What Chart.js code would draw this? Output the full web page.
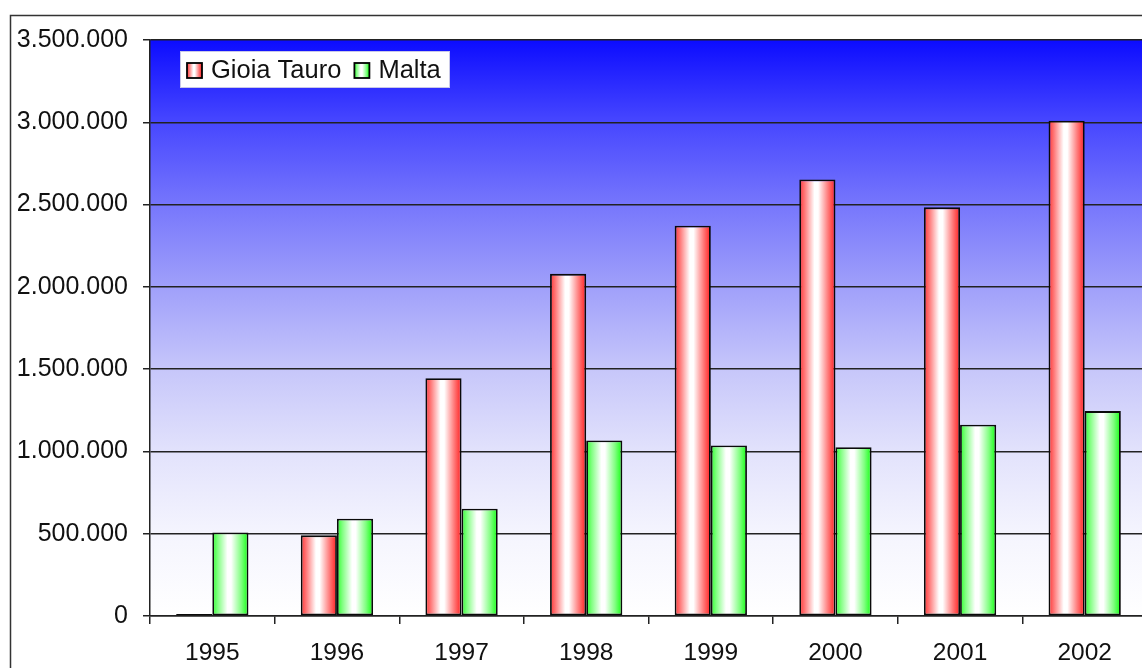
<!DOCTYPE html>
<html>
<head>
<meta charset="utf-8">
<script src="https://cdn.jsdelivr.net/npm/chart.js@4/dist/chart.umd.min.js"></script>
<style>
  html, body { margin: 0; padding: 0; background: #fff; overflow: hidden; }
  #wrap { width: 1142px; height: 668px; overflow: hidden; position: relative; }
  canvas { display: block; }
</style>
</head>
<body>
<div id="wrap"><canvas id="c" width="1160" height="668"></canvas></div>
<script>
// Container traffic (TEU), 1995–2002
const years = ['1995', '1996', '1997', '1998', '1999', '2000', '2001', '2002'];
const gioiaTauro = [12000, 490000, 1445000, 2079000, 2372000, 2652000, 2483000, 3010000];
const malta = [508000, 591000, 652000, 1067000, 1036000, 1026000, 1162000, 1245000];
const seriesNames = ['Gioia Tauro', 'Malta'];
const yMax = 3500000;
const yStep = 500000;

const FONT = '"Liberation Sans", Arial, sans-serif';
const CAT_PCT = 0.58;

function fmt(v) {
  return String(v).replace(/\B(?=(\d{3})+(?!\d))/g, '.');
}

// horizontal cylinder-like shading across a bar
function barGradient(ctx, x0, x1, p) {
  const g = ctx.createLinearGradient(x0, 0, x1, 0);
  g.addColorStop(0, p.edge);
  g.addColorStop(0.15, p.soft);
  g.addColorStop(0.42, '#ffffff');
  g.addColorStop(0.52, '#ffffff');
  g.addColorStop(0.8, p.soft);
  g.addColorStop(0.95, p.edge);
  g.addColorStop(1, p.deep);
  return g;
}
const palettes = [
  { edge: '#ff3434', soft: '#ff7878', deep: '#e80000', flat: '#ff5050' },
  { edge: '#2cff2c', soft: '#80ff80', deep: '#00e000', flat: '#40ff40' }
];

// per-bar fill, positioned from the category scale
function barFill(context) {
  const chart = context.chart;
  const p = palettes[context.datasetIndex];
  const xs = chart.scales && chart.scales.x;
  if (!chart.chartArea || !xs) return p.flat;
  const n = chart.data.labels.length;
  const cat = (xs.right - xs.left) / n;
  const bw = cat * CAT_PCT / 2;
  const c = xs.getPixelForValue(context.dataIndex);
  const x0 = context.datasetIndex === 0 ? c - bw : c;
  return barGradient(chart.ctx, x0, x0 + bw, p);
}

const framePlugin = {
  id: 'frame',
  beforeDraw(chart) {
    const { ctx, chartArea: a } = chart;
    ctx.save();
    ctx.fillStyle = '#fff';
    ctx.fillRect(0, 0, chart.width, chart.height);
    ctx.strokeStyle = '#333';
    ctx.lineWidth = 1.5;
    ctx.strokeRect(10.5, 15.5, chart.width + 20, chart.height + 20);
    // plot background: blue fading to white
    const g = ctx.createLinearGradient(0, a.top, 0, a.bottom);
    g.addColorStop(0, 'rgb(12,12,255)');
    g.addColorStop(0.14, 'rgb(70,70,255)');
    g.addColorStop(0.285, 'rgb(118,118,252)');
    g.addColorStop(0.43, 'rgb(160,160,250)');
    g.addColorStop(0.57, 'rgb(198,198,250)');
    g.addColorStop(0.714, 'rgb(226,226,252)');
    g.addColorStop(0.86, 'rgb(245,245,254)');
    g.addColorStop(1, 'rgb(255,255,255)');
    ctx.fillStyle = g;
    ctx.fillRect(a.left, a.top, a.right - a.left, a.bottom - a.top);
    ctx.strokeStyle = '#999';
    ctx.lineWidth = 1;
    ctx.beginPath();
    ctx.moveTo(a.left, a.top - 0.5);
    ctx.lineTo(a.right, a.top - 0.5);
    ctx.stroke();
    ctx.restore();
  },
  afterDraw(chart) {
    // legend box inside the plot, top-left
    const ctx = chart.ctx;
    const bx = 180, by = 51, bw = 270, bh = 37;
    ctx.save();
    ctx.fillStyle = '#fff';
    ctx.fillRect(bx, by, bw, bh);
    ctx.strokeStyle = '#c8c8e8';
    ctx.lineWidth = 1;
    ctx.strokeRect(bx + 0.5, by + 0.5, bw - 1, bh - 1);
    ctx.font = '25.5px ' + FONT;
    ctx.textBaseline = 'middle';
    const cy = by + bh / 2 + 1;
    let x = bx + 7;
    chart.data.datasets.forEach((ds, i) => {
      const p = palettes[i];
      const s = 15;
      ctx.fillStyle = barGradient(ctx, x, x + s, p);
      ctx.fillRect(x, cy - s / 2, s, s);
      ctx.strokeStyle = '#000';
      ctx.lineWidth = 1.8;
      ctx.strokeRect(x, cy - s / 2, s, s);
      ctx.fillStyle = '#111';
      ctx.fillText(ds.label, x + s + 9, cy);
      x += s + 9 + ctx.measureText(ds.label).width + 13;
    });
    ctx.restore();
  }
};

new Chart(document.getElementById('c'), {
  type: 'bar',
  data: {
    labels: years,
    datasets: [
      { label: seriesNames[0], data: gioiaTauro, borderColor: '#0a0a0a', borderWidth: 1.8, backgroundColor: barFill },
      { label: seriesNames[1], data: malta, borderColor: '#0a0a0a', borderWidth: 1.8, backgroundColor: barFill }
    ]
  },
  options: {
    responsive: false,
    animation: false,
    devicePixelRatio: 1,
    layout: { padding: { left: 0, top: 40, right: 13, bottom: 0 } },
    datasets: { bar: { barPercentage: 1, categoryPercentage: CAT_PCT, borderSkipped: false } },
    plugins: {
      legend: { display: false },
      tooltip: { enabled: false }
    },
    scales: {
      x: {
        afterFit(s) { s.height = 52; },
        grid: {
          offset: true,
          drawOnChartArea: false,
          drawTicks: true,
          tickLength: 8,
          color: '#222',
          lineWidth: 1.5
        },
        border: { color: '#222', width: 1.5 },
        ticks: { color: '#111', font: { family: FONT, size: 24.5 }, padding: 15, maxRotation: 0 }
      },
      y: {
        min: 0,
        max: yMax,
        afterFit(s) { s.width = 150; },
        grid: { color: '#222', lineWidth: 1.5, tickLength: 7, drawTicks: true },
        border: { color: '#222', width: 1.5 },
        ticks: {
          stepSize: yStep,
          color: '#111',
          padding: 15,
          font: { family: FONT, size: 25 },
          callback: v => fmt(v)
        }
      }
    }
  },
  plugins: [framePlugin]
});
</script>
</body>
</html>
